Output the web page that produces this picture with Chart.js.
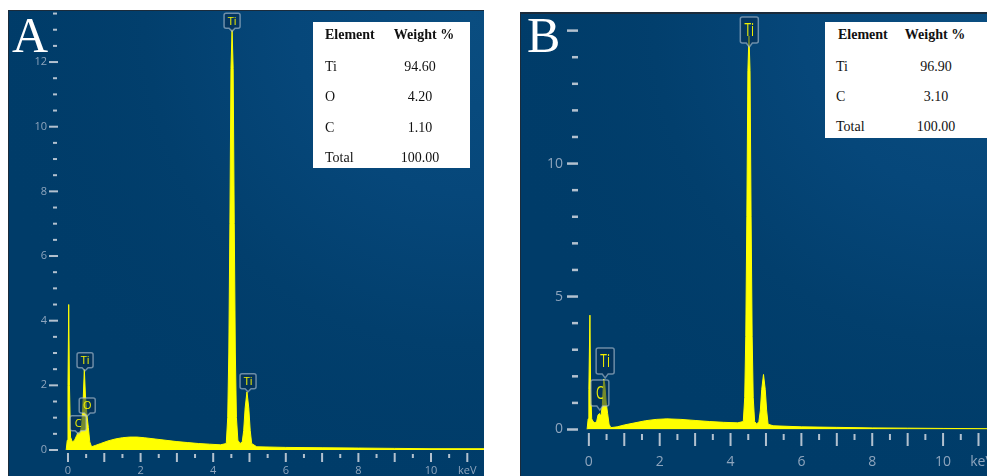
<!DOCTYPE html>
<html><head><meta charset="utf-8">
<script src="https://cdn.jsdelivr.net/npm/chart.js@4.4.1/dist/chart.umd.min.js"></script>
<style>
html,body{margin:0;padding:0;background:#fff;}
body{width:987px;height:476px;position:relative;overflow:hidden;}
canvas{position:absolute;display:block;}
#cA{left:8px;top:10px;}
#cB{left:520px;top:12px;}
.tbl{position:absolute;background:#fff;font-family:"Liberation Serif","Times New Roman",serif;font-size:14px;color:#111;}
.tbl span{position:absolute;line-height:16px;white-space:nowrap;}
.tbl .h{font-weight:bold;}
</style>
</head><body>
<canvas id="cA" width="476" height="466"></canvas>
<canvas id="cB" width="467" height="464"></canvas>
<div class="tbl" id="tA" style="left:313px;top:22px;width:157px;height:146px"></div>
<div class="tbl" id="tB" style="left:825px;top:22px;width:162px;height:116px"></div>
<script>
// ---------- DATA ----------
// Panel A spectrum: energy (keV) and counts
const energyA = [-0.05,-0.02,0.00,0.02,0.04,0.07,0.12,0.18,0.24,0.28,0.33,0.38,0.42,0.45,0.48,0.52,0.56,0.60,0.65,
  0.75,0.90,1.10,1.30,1.50,1.70,1.90,2.10,2.40,2.70,3.00,3.30,3.60,3.90,4.20,4.36,
  4.40,4.43,4.46,4.49,4.52,4.55,4.58,4.61,4.64,4.68,4.74,4.80,4.84,4.88,4.93,4.98,5.02,5.06,
  5.20,6.00,7.00,8.00,9.00,10.00,11.60];
const countsA = [0,0.3,2.0,4.5,2.0,0.4,0.25,0.3,0.45,0.55,0.5,0.8,1.6,2.5,1.7,1.1,0.7,0.25,0.1,
  0.14,0.2,0.28,0.34,0.38,0.40,0.40,0.38,0.34,0.30,0.26,0.23,0.20,0.18,0.16,0.2,
  1.0,3.0,7.0,11.8,13.0,11.8,7.0,3.0,1.0,0.3,0.2,0.25,0.6,1.3,1.8,1.3,0.6,0.2,
  0.1,0.08,0.07,0.06,0.05,0.04,0.04];
// Panel B spectrum
const energyB = [-0.05,-0.02,0.00,0.03,0.05,0.08,0.12,0.17,0.22,0.26,0.30,0.34,0.38,0.42,0.45,0.49,0.53,0.57,0.62,
  0.80,1.00,1.30,1.60,1.90,2.20,2.60,3.00,3.40,3.80,4.20,4.36,
  4.40,4.43,4.46,4.49,4.52,4.55,4.58,4.61,4.64,4.68,4.74,4.80,4.84,4.88,4.93,4.98,5.02,5.06,
  5.20,6.00,7.00,8.00,9.00,10.00,11.30];
const countsB = [0,0.4,1.5,4.3,1.5,0.4,0.3,0.25,0.3,0.55,0.6,0.5,0.9,1.9,1.7,1.0,0.6,0.2,0.07,
  0.1,0.17,0.25,0.33,0.38,0.4,0.38,0.34,0.3,0.27,0.25,0.3,
  1.2,3.5,8.0,13.5,14.8,13.5,8.0,3.5,1.2,0.3,0.2,0.3,0.7,1.5,2.07,1.5,0.7,0.2,
  0.14,0.1,0.08,0.06,0.05,0.04,0.03];
// Tick labels
const yTickLabelsA = [0,2,4,6,8,10,12];
const xTickLabelsA = [0,2,4,6,8,10];
const yTickLabelsB = [0,5,10];
const xTickLabelsB = [0,2,4,6,8,10];
const unitLabel = 'keV';
// Peak tags
const tagNamesA = ['C','O','Ti','Ti','Ti'];
const tagEnergyA = [0.28,0.53,0.47,4.52,4.96];
const tagHeightA = [0.5,1.05,2.45,12.95,1.8];
const tagNamesB = ['C','Ti','Ti'];
const tagEnergyB = [0.31,0.46,4.53];
const tagHeightB = [0.73,1.94,14.38];
// Tables
const tableHeader = ['Element','Weight %'];
const tableElementsA = ['Ti','O','C','Total'];
const tableWeightsA = ['94.60','4.20','1.10','100.00'];
const tableElementsB = ['Ti','C','Total'];
const tableWeightsB = ['96.90','3.10','100.00'];
const panelLetters = ['A','B'];

// ---------- STYLE / GEOMETRY ----------
const LABEL_COLOR = '#8ea5bd';
const DASH_COLOR = '#b3c1cf';
const YELLOW = '#ffff00';
const FONT = '"Open Sans","DejaVu Sans",sans-serif';

const geomA = {
  xmin:-0.165, xmax:11.46, ymax:13.61, yW:54, xH:26, yPad:15, xPad:14, fs:11,
  unitAt:11.0, yMinorStep:0.5, yMajorEvery:2, yDashMax:13.5, xDashMax:11.5,
  yMaj:[13,9,2], yMin:[9,4,2], xMaj:[3,9], xMin:[4,4],
  letter:{text:panelLetters[0], x:4, y:42},
  tag:{w:16,h:15,ptr:3,fs:11,sy:1.05},
  border:{top:1,left:1}
};
const geomB = {
  xmin:-0.25, xmax:11.24, ymax:15.7, yW:60, xH:46.5, yPad:17, xPad:24, fs:14,
  unitAt:11.1, yMinorStep:1, yMajorEvery:5, yDashMax:15, xDashMax:11,
  yMaj:[13,11,2.5], yMin:[8,6,2.5], xMaj:[3.5,13], xMin:[4.5,6],
  letter:{text:panelLetters[1], x:7, y:40},
  tag:{w:18,h:26,ptr:4,fs:12,sy:1.5},
  border:{top:2,left:1}
};

function drawTag(ctx, cx, tipY, t, text){
  const bottom = tipY - t.ptr, top = bottom - t.h, l = cx - t.w/2, r = cx + t.w/2, rad = 2;
  ctx.beginPath();
  ctx.moveTo(l+rad, top); ctx.lineTo(r-rad, top); ctx.quadraticCurveTo(r, top, r, top+rad);
  ctx.lineTo(r, bottom-rad); ctx.quadraticCurveTo(r, bottom, r-rad, bottom);
  ctx.lineTo(cx+3, bottom); ctx.lineTo(cx, tipY); ctx.lineTo(cx-3, bottom);
  ctx.lineTo(l+rad, bottom); ctx.quadraticCurveTo(l, bottom, l, bottom-rad);
  ctx.lineTo(l, top+rad); ctx.quadraticCurveTo(l, top, l+rad, top);
  ctx.closePath();
  ctx.fillStyle = 'rgba(6,44,80,0.55)'; ctx.fill();
  ctx.strokeStyle = 'rgba(180,196,212,0.6)'; ctx.lineWidth = 1.5; ctx.stroke();
  ctx.save();
  ctx.translate(cx, top + t.h/2);
  ctx.scale(1, t.sy);
  ctx.fillStyle = '#f0f000';
  ctx.font = t.fs + 'px ' + FONT;
  ctx.textAlign = 'center'; ctx.textBaseline = 'middle';
  ctx.fillText(text, 0, 0.5);
  ctx.restore();
}

function makeChart(id, energy, counts, yLabels, xLabels, g, tagNames, tagE, tagH){
  const deco = {
    id: 'deco_' + id,
    beforeDraw(chart){
      const ctx = chart.ctx, W = chart.width, H = chart.height;
      ctx.save();
      ctx.fillStyle = '#003c69';
      ctx.fillRect(0,0,W,H);
      const gr = ctx.createRadialGradient(W*0.97, H*0.02, 0, W*0.97, H*0.02, W*1.05);
      gr.addColorStop(0, '#0a4d80');
      gr.addColorStop(0.35, '#06477a');
      gr.addColorStop(0.65, '#023f6d');
      gr.addColorStop(1, 'rgba(0,60,105,0)');
      ctx.fillStyle = gr;
      ctx.fillRect(0,0,W,H);
      ctx.fillStyle = '#1b2b3b';
      ctx.fillRect(0,0,W,g.border.top);
      ctx.fillRect(0,0,g.border.left,H);
      ctx.restore();
    },
    beforeDatasetsDraw(chart){
      const ctx = chart.ctx, ca = chart.chartArea, ys = chart.scales.y, xs = chart.scales.x;
      ctx.save();
      ctx.fillStyle = DASH_COLOR;
      const nY = Math.round(g.yDashMax / g.yMinorStep);
      for (let i = 0; i <= nY; i++){
        const v = i * g.yMinorStep;
        const p = ys.getPixelForValue(v);
        const major = Math.abs(v / g.yMajorEvery - Math.round(v / g.yMajorEvery)) < 1e-6;
        const d = major ? g.yMaj : g.yMin;
        ctx.fillRect(ca.left - d[0], p - d[2]/2, d[1], d[2]);
      }
      const nX = Math.round(g.xDashMax / 0.5);
      for (let i = 0; i <= nX; i++){
        const v = i * 0.5;
        const p = xs.getPixelForValue(v);
        const major = (i % 2 === 0);
        const d = major ? g.xMaj : g.xMin;
        ctx.fillRect(p - 1, ca.bottom + d[0], 2, d[1]);
      }
      ctx.fillStyle = '#ffffff';
      ctx.font = '50px "Liberation Serif","Times New Roman",serif';
      ctx.textBaseline = 'alphabetic'; ctx.textAlign = 'left';
      ctx.fillText(g.letter.text, g.letter.x, g.letter.y);
      ctx.restore();
    },
    afterDatasetsDraw(chart){
      const ctx = chart.ctx, ys = chart.scales.y, xs = chart.scales.x;
      ctx.save();
      for (let i = 0; i < tagNames.length; i++){
        drawTag(ctx, xs.getPixelForValue(tagE[i]), ys.getPixelForValue(tagH[i]), g.tag, tagNames[i]);
      }
      ctx.restore();
    }
  };
  return new Chart(document.getElementById(id), {
    type: 'line',
    data: { datasets: [{
      data: energy.map((e,i) => ({x:e, y:counts[i]})),
      borderColor: YELLOW, backgroundColor: YELLOW, borderWidth: 1,
      fill: 'origin', pointRadius: 0, tension: 0
    }]},
    options: {
      responsive: false, animation: false, devicePixelRatio: 1,
      layout: { padding: 0 },
      plugins: { legend: {display:false}, tooltip: {enabled:false} },
      scales: {
        x: {
          type: 'linear', min: g.xmin, max: g.xmax,
          grid: {display:false, drawTicks:false}, border: {display:false},
          afterBuildTicks: s => { s.ticks = xLabels.map(v => ({value:v})).concat([{value:g.unitAt}]); },
          ticks: { autoSkip:false, maxRotation:0, minRotation:0, padding:g.xPad, color:LABEL_COLOR,
                   font:{family:FONT, size:g.fs},
                   callback: v => (Math.abs(v - g.unitAt) < 1e-6 ? unitLabel : String(v)) },
          afterFit: s => { s.height = g.xH; s.paddingLeft = 0; s.paddingRight = 0; }
        },
        y: {
          type: 'linear', min: 0, max: g.ymax,
          grid: {display:false, drawTicks:false}, border: {display:false},
          afterBuildTicks: s => { s.ticks = yLabels.map(v => ({value:v})); },
          ticks: { autoSkip:false, padding:g.yPad, color:LABEL_COLOR, font:{family:FONT, size:g.fs},
                   callback: v => String(v) },
          afterFit: s => { s.width = g.yW; s.paddingTop = 0; s.paddingBottom = 0; }
        }
      }
    },
    plugins: [deco]
  });
}

makeChart('cA', energyA, countsA, yTickLabelsA, xTickLabelsA, geomA, tagNamesA, tagEnergyA, tagHeightA);
makeChart('cB', energyB, countsB, yTickLabelsB, xTickLabelsB, geomB, tagNamesB, tagEnergyB, tagHeightB);

function buildTable(id, els, wts, t){
  const box = document.getElementById(id);
  const add = (txt, cls, cx, cy, center) => {
    const s = document.createElement('span');
    s.textContent = txt;
    if (cls) s.className = cls;
    s.style.top = (cy - 8) + 'px';
    if (center){ s.style.left = (cx - 50) + 'px'; s.style.width = '100px'; s.style.textAlign = 'center'; }
    else s.style.left = cx + 'px';
    box.appendChild(s);
  };
  add(tableHeader[0], 'h', t.hx, t.hy, false);
  add(tableHeader[1], 'h', t.hvx, t.hy, true);
  for (let i = 0; i < els.length; i++){
    const cy = t.r0 + i * t.dr;
    add(els[i], '', t.ex, cy, false);
    add(wts[i], '', t.vx, cy, true);
  }
}
buildTable('tA', tableElementsA, tableWeightsA, {hx:12, hy:13, hvx:111, ex:12, vx:107, r0:45, dr:30.4});
buildTable('tB', tableElementsB, tableWeightsB, {hx:13, hy:13, hvx:110, ex:11, vx:111, r0:45, dr:30.2});
</script>
</body></html>
